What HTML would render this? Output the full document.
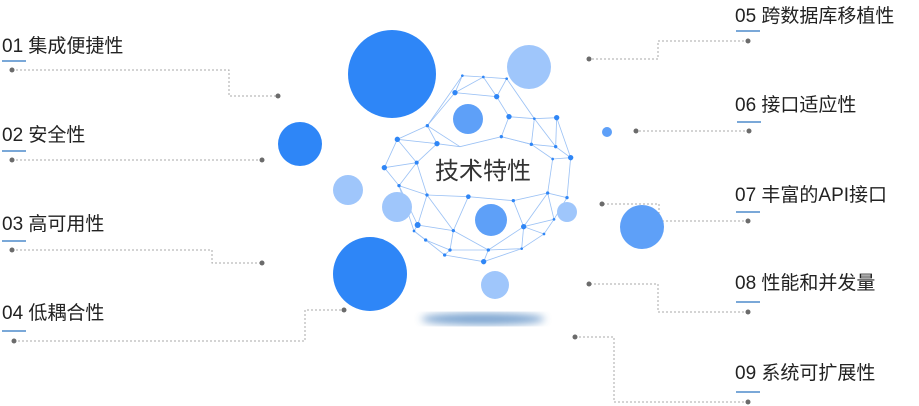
<!DOCTYPE html>
<html><head><meta charset="utf-8"><style>
body{margin:0;width:919px;height:406px;background:#fff;overflow:hidden;position:relative;font-family:"Liberation Sans","Noto Sans CJK SC",sans-serif}
.l{position:absolute;font-size:19px;color:#222;white-space:nowrap;line-height:1}
.u{position:absolute;height:2px;width:24px;background:#7aa8d8}
</style></head><body>
<svg width="919" height="406" style="position:absolute;left:0;top:0">
<defs><filter id="b"><feGaussianBlur stdDeviation="4"/></filter></defs>
<ellipse cx="483" cy="319" rx="62" ry="6" fill="#6f9ccc" filter="url(#b)" opacity="0.9"/>
<g fill="none" stroke="#aaa" stroke-width="1" stroke-dasharray="2,2">
<polyline points="12,70 229,70 229,96 278,96"/>
<polyline points="12,160 262,160"/>
<polyline points="12,250 212,250 212,263 262,263"/>
<polyline points="14,341 305,341 305,310 344,310"/>
<polyline points="748,41 658,41 658,59 589,59"/>
<polyline points="749,131 636,131"/>
<polyline points="748,221 659,221 659,204 602,204"/>
<polyline points="748,312 658,312 658,284 589,284"/>
<polyline points="748,402 614,402 614,337 575,337"/>
</g>
<g fill="#6b6b6b">
<circle cx="12" cy="70" r="2.5"/><circle cx="278" cy="96" r="2.5"/>
<circle cx="12" cy="160" r="2.5"/><circle cx="262" cy="160" r="2.5"/>
<circle cx="12" cy="250" r="2.5"/><circle cx="262" cy="263" r="2.5"/>
<circle cx="14" cy="341" r="2.5"/><circle cx="344" cy="310" r="2.5"/>
<circle cx="748" cy="41" r="2.5"/><circle cx="589" cy="59" r="2.5"/>
<circle cx="749" cy="131" r="2.5"/><circle cx="636" cy="131" r="2.5"/>
<circle cx="748" cy="221" r="2.5"/><circle cx="602" cy="204" r="2.5"/>
<circle cx="748" cy="312" r="2.5"/><circle cx="589" cy="284" r="2.5"/>
<circle cx="748" cy="402" r="2.5"/><circle cx="575" cy="337" r="2.5"/>
</g>
<g transform="translate(330,20) scale(0.33333)">
<g stroke="#9cc2f5" stroke-width="2.5" fill="none">
<polyline points="397,167 460,171 530,176 613,296 680,293 722,413 711,533 672,598 642,642 575,686 461,725 344,705 287,660 252,633 207,497 163,443 202,358 292,317 397,167"/>
<polyline points="397,167 375,218 500,230 530,176"/>
<polyline points="375,218 292,317 321,371 202,358"/>
<polyline points="500,230 537,290 613,296 604,373 514,350 537,290"/>
<polyline points="375,218 460,171 500,230"/>
<polyline points="321,371 390,380 514,350 604,373 677,380 680,293"/>
<polyline points="677,380 722,413 668,417 653,519 711,533"/>
<polyline points="668,417 604,373"/>
<polyline points="202,358 260,428 163,443"/>
<polyline points="260,428 321,371"/>
<polyline points="260,428 207,497 291,525 260,428"/>
<polyline points="291,525 415,530 550,542 653,519 672,598 581,620 550,542"/>
<polyline points="291,525 263,615 370,632 415,530"/>
<polyline points="370,632 475,690 581,620 642,642"/>
<polyline points="581,620 653,519"/>
<polyline points="263,615 252,633 287,660 360,690 370,632"/>
<polyline points="360,690 344,705"/>
<polyline points="360,690 475,690 575,686 581,620"/>
<polyline points="475,690 461,725"/>
<polyline points="207,497 263,615"/>
<polyline points="291,525 370,632"/>
<polyline points="292,317 390,380"/>
<polyline points="613,296 677,380"/>
</g>
<g fill="#2f86f6">
<circle cx="397" cy="167" r="4"/><circle cx="460" cy="171" r="4"/><circle cx="530" cy="176" r="4"/>
<circle cx="375" cy="218" r="8"/><circle cx="500" cy="230" r="8"/><circle cx="537" cy="290" r="8"/>
<circle cx="613" cy="296" r="4"/><circle cx="680" cy="293" r="8"/><circle cx="292" cy="317" r="5"/>
<circle cx="202" cy="358" r="8"/><circle cx="321" cy="371" r="8"/><circle cx="514" cy="350" r="5"/>
<circle cx="604" cy="373" r="5"/><circle cx="677" cy="380" r="5"/><circle cx="722" cy="413" r="8"/>
<circle cx="668" cy="417" r="4"/><circle cx="163" cy="443" r="8"/><circle cx="260" cy="428" r="6"/>
<circle cx="207" cy="497" r="5"/><circle cx="291" cy="525" r="5"/><circle cx="415" cy="530" r="7"/>
<circle cx="550" cy="542" r="5"/><circle cx="653" cy="519" r="5"/><circle cx="711" cy="533" r="5"/>
<circle cx="263" cy="615" r="9"/><circle cx="370" cy="632" r="5"/><circle cx="581" cy="620" r="8"/>
<circle cx="672" cy="598" r="4"/><circle cx="642" cy="642" r="4"/><circle cx="252" cy="633" r="4"/>
<circle cx="287" cy="660" r="5"/><circle cx="360" cy="690" r="5"/><circle cx="475" cy="690" r="5"/>
<circle cx="575" cy="686" r="4"/><circle cx="344" cy="705" r="5"/><circle cx="461" cy="725" r="8"/>
</g>
</g>
<circle cx="392" cy="74" r="44" fill="#2e86f7"/>
<circle cx="529" cy="67" r="22" fill="#9fc6fb"/>
<circle cx="468" cy="119" r="15" fill="#5ea0f8"/>
<circle cx="300" cy="144" r="22" fill="#2e86f7"/>
<circle cx="607" cy="132" r="5" fill="#5ea0f8"/>
<circle cx="348" cy="190" r="15" fill="#9fc6fb"/>
<circle cx="397" cy="207" r="15" fill="#9fc6fb"/>
<circle cx="491" cy="220" r="16" fill="#5ea0f8"/>
<circle cx="567" cy="212" r="10" fill="#9fc6fb"/>
<circle cx="642" cy="227" r="22" fill="#5ea0f8"/>
<circle cx="370" cy="274" r="37" fill="#2e86f7"/>
<circle cx="495" cy="285" r="14" fill="#9fc6fb"/>
<text x="483" y="179" text-anchor="middle" font-size="24" fill="#333" font-family="Liberation Sans, Noto Sans CJK SC, sans-serif">技术特性</text>
</svg>
<div class="l" style="left:2px;top:37px">01 集成便捷性</div><div class="u" style="left:2px;top:60px"></div>
<div class="l" style="left:2px;top:126px">02 安全性</div><div class="u" style="left:2px;top:150px"></div>
<div class="l" style="left:2px;top:215px">03 高可用性</div><div class="u" style="left:2px;top:240px"></div>
<div class="l" style="left:2px;top:304px">04 低耦合性</div><div class="u" style="left:2px;top:330px"></div>
<div class="l" style="left:735px;top:7px">05 跨数据库移植性</div><div class="u" style="left:736px;top:30px"></div>
<div class="l" style="left:735px;top:96px">06 接口适应性</div><div class="u" style="left:737px;top:121px"></div>
<div class="l" style="left:735px;top:186px">07 丰富的API接口</div><div class="u" style="left:736px;top:211px"></div>
<div class="l" style="left:735px;top:274px">08 性能和并发量</div><div class="u" style="left:736px;top:301px"></div>
<div class="l" style="left:735px;top:364px">09 系统可扩展性</div><div class="u" style="left:736px;top:391px"></div>
</body></html>
